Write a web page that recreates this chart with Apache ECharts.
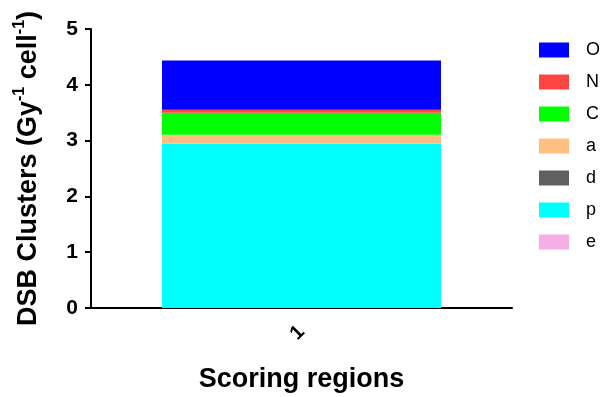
<!DOCTYPE html>
<html>
<head>
<meta charset="utf-8">
<script src="https://cdn.jsdelivr.net/npm/echarts@6/dist/echarts.min.js"></script>
<style>
  html, body { margin: 0; padding: 0; background: #fff; }
  #chart { width: 601px; height: 397px; }
</style>
</head>
<body>
<div id="chart"></div>
<script>
// Scoring region categories
const categories = ['1'];

// Stacked components, bottom to top
const seriesNames = ['e', 'p', 'd', 'a', 'C', 'N', 'O'];
const valuesE = [0];
const valuesP = [2.95];
const valuesD = [0];
const valuesA = [0.155];
const valuesC = [0.395];
const valuesN = [0.055];
const valuesO = [0.88];

// Legend reads top to bottom in reverse stacking order
const legendOrder = ['O', 'N', 'C', 'a', 'd', 'p', 'e'];
const yTicks = [0, 1, 2, 3, 4, 5];

const colors = {
  e: '#f5aee6',
  p: '#00ffff',
  d: '#606060',
  a: '#ffbf80',
  C: '#00ff00',
  N: '#ff4444',
  O: '#0000ff'
};
const valueMap = { e: valuesE, p: valuesP, d: valuesD, a: valuesA, C: valuesC, N: valuesN, O: valuesO };

const FONT = '"Liberation Sans", Arial, Helvetica, sans-serif';

const chart = echarts.init(document.getElementById('chart'), null, { renderer: 'canvas' });

chart.setOption({
  backgroundColor: '#ffffff',
  animation: false,
  grid: { left: 91, right: 89, top: 29, bottom: 89, containLabel: false, outerBoundsMode: 'none' },
  legend: {
    data: legendOrder,
    orient: 'vertical',
    left: 534,
    top: 36,
    icon: 'rect',
    itemWidth: 30,
    itemHeight: 15,
    itemGap: 14,
    selectedMode: false,
    textStyle: { fontFamily: FONT, fontSize: 18, color: '#000', padding: [0, 0, 0, 12] }
  },
  xAxis: {
    type: 'category',
    data: categories,
    name: 'Scoring regions',
    nameLocation: 'middle',
    nameGap: 58,
    nameTextStyle: { fontFamily: FONT, fontSize: 27, fontWeight: 'bold', color: '#000' },
    axisLine: { lineStyle: { color: '#000', width: 2 } },
    axisTick: { alignWithLabel: true, length: 6, lineStyle: { color: '#000', width: 2 } },
    axisLabel: { rotate: 45, margin: 21, fontFamily: FONT, fontSize: 20, fontWeight: 'bold', color: '#000' }
  },
  yAxis: {
    type: 'value',
    min: yTicks[0],
    max: yTicks[yTicks.length - 1],
    interval: 1,
    name: '{t|DSB Clusters (Gy}{s|-1}{t| cell}{s|-1}{t|)}',
    nameLocation: 'middle',
    nameGap: 49,
    nameRotate: 90,
    nameTextStyle: {
      rich: {
        t: { fontFamily: FONT, fontSize: 27, fontWeight: 'bold', color: '#000', lineHeight: 32, verticalAlign: 'bottom' },
        s: { fontFamily: FONT, fontSize: 16, fontWeight: 'bold', color: '#000', lineHeight: 32, verticalAlign: 'top', padding: [2, 0, 0, 0] }
      }
    },
    splitLine: { show: false },
    axisLine: { show: true, lineStyle: { color: '#000', width: 2 } },
    axisTick: { show: true, length: 6, lineStyle: { color: '#000', width: 2 } },
    axisLabel: { margin: 13, fontFamily: FONT, fontSize: 21, fontWeight: 'bold', color: '#000' }
  },
  series: seriesNames.map(function (n) {
    return {
      name: n,
      type: 'bar',
      stack: 'total',
      barWidth: 279,
      data: valueMap[n],
      itemStyle: { color: colors[n] },
      emphasis: { disabled: true }
    };
  })
});
</script>
</body>
</html>
